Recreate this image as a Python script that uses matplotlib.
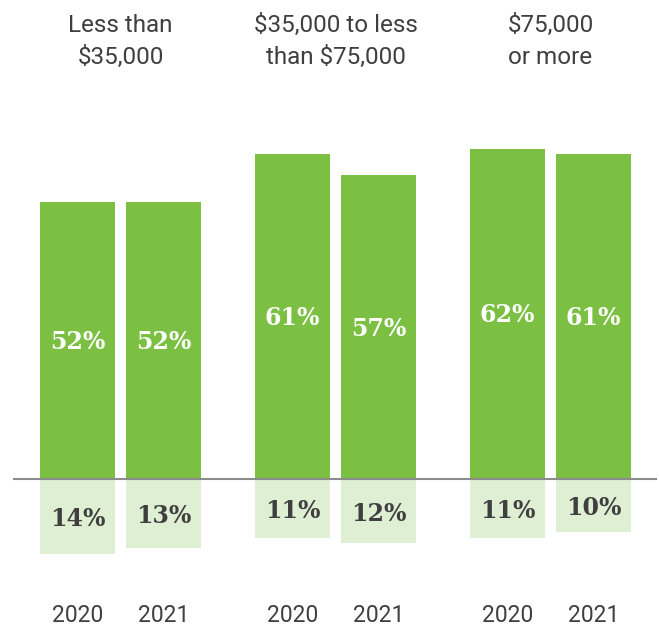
import matplotlib
matplotlib.use('Agg')
import matplotlib.pyplot as plt
import matplotlib.transforms as mtransforms

# Data
groups = ['Less than\n$35,000', '$35,000 to less\nthan $75,000', '$75,000\nor more']
years = ['2020', '2021']
positive = [52, 52, 61, 57, 62, 61]
negative = [14, 13, 11, 12, 11, 10]

green = '#7bc043'
light_green = '#dfefd3'
text_gray = '#3f3f3f'

fig = plt.figure(figsize=(6.59, 6.33), dpi=100)
ax = fig.add_axes([0, 0, 1, 1])
ax.axis('off')

# bar positions: 2 bars per group, gap between groups
xs = []
for g in range(len(groups)):
    for i in range(len(years)):
        xs.append(g * 2.5 + i)
bar_w = 0.87

ax.bar(xs, positive, width=bar_w, color=green, zorder=2)
ax.bar(xs, [-v for v in negative], width=bar_w, color=light_green, zorder=2)

ax.set_xlim(-0.901, 6.762)
ax.set_ylim(-28.9, 89.9)

# baseline
ax.plot([-0.75, 6.74], [0, 0], color='#8c8c8c', lw=1.5, zorder=3,
        solid_capstyle='butt')

label_font = dict(family='DejaVu Serif', fontweight='bold', fontsize=17)
for x, p, n in zip(xs, positive, negative):
    ax.text(x, p / 2 - 0.3, f'{p}%', ha='center', va='center', color='white',
            zorder=4, **label_font)
    ax.text(x, -n / 2 - 0.5, f'{n}%', ha='center', va='center', color=text_gray,
            zorder=4, **label_font)

trans = mtransforms.blended_transform_factory(ax.transData, ax.transAxes)
sans = ['Roboto', 'DejaVu Sans']
for g, name in enumerate(groups):
    cx = g * 2.5 + 0.5
    ax.text(cx, 0.935, name, ha='center', va='center', fontsize=17.5,
            color=text_gray, family=sans, linespacing=1.5, transform=trans)

for x, i in zip(xs, [0, 1] * len(groups)):
    ax.text(x, 0.027, years[i], ha='center', va='center', fontsize=16.5,
            color=text_gray, family=sans, transform=trans)

plt.savefig('out.png', dpi=100, facecolor='white')
